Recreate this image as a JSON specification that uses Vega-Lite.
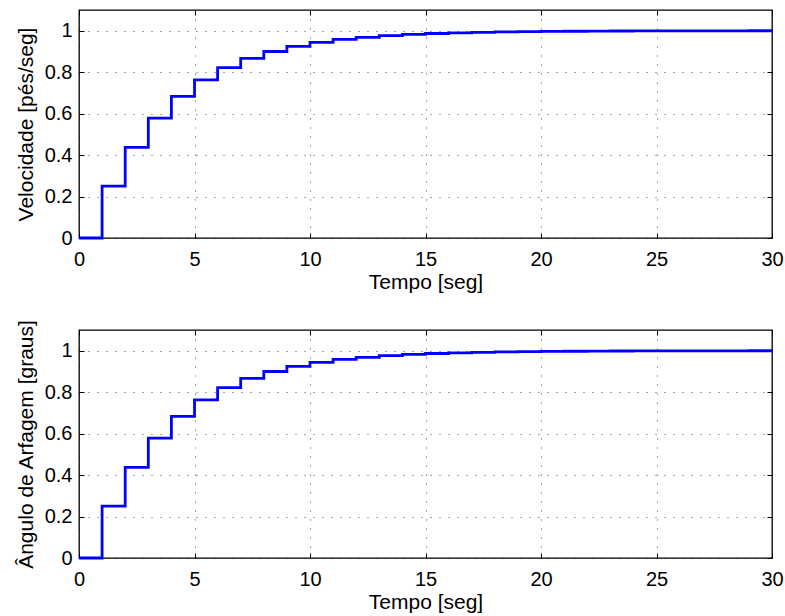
{
  "$schema": "https://vega.github.io/schema/vega-lite/v6.json",
  "padding": {"left": 14, "top": 8, "right": 0, "bottom": 2},
  "background": "white",
  "spacing": 24,
  "datasets": {
    "resp": [
      {"t": 0, "velocidade": 0, "angulo": 0},
      {"t": 1, "velocidade": 0.25, "angulo": 0.25},
      {"t": 2, "velocidade": 0.4375, "angulo": 0.4375},
      {"t": 3, "velocidade": 0.5781, "angulo": 0.5781},
      {"t": 4, "velocidade": 0.6836, "angulo": 0.6836},
      {"t": 5, "velocidade": 0.7627, "angulo": 0.7627},
      {"t": 6, "velocidade": 0.822, "angulo": 0.822},
      {"t": 7, "velocidade": 0.8665, "angulo": 0.8665},
      {"t": 8, "velocidade": 0.8999, "angulo": 0.8999},
      {"t": 9, "velocidade": 0.9249, "angulo": 0.9249},
      {"t": 10, "velocidade": 0.9437, "angulo": 0.9437},
      {"t": 11, "velocidade": 0.9578, "angulo": 0.9578},
      {"t": 12, "velocidade": 0.9683, "angulo": 0.9683},
      {"t": 13, "velocidade": 0.9762, "angulo": 0.9762},
      {"t": 14, "velocidade": 0.9822, "angulo": 0.9822},
      {"t": 15, "velocidade": 0.9866, "angulo": 0.9866},
      {"t": 16, "velocidade": 0.99, "angulo": 0.99},
      {"t": 17, "velocidade": 0.9925, "angulo": 0.9925},
      {"t": 18, "velocidade": 0.9944, "angulo": 0.9944},
      {"t": 19, "velocidade": 0.9958, "angulo": 0.9958},
      {"t": 20, "velocidade": 0.9968, "angulo": 0.9968},
      {"t": 21, "velocidade": 0.9976, "angulo": 0.9976},
      {"t": 22, "velocidade": 0.9982, "angulo": 0.9982},
      {"t": 23, "velocidade": 0.9987, "angulo": 0.9987},
      {"t": 24, "velocidade": 0.999, "angulo": 0.999},
      {"t": 25, "velocidade": 0.9992, "angulo": 0.9992},
      {"t": 26, "velocidade": 0.9994, "angulo": 0.9994},
      {"t": 27, "velocidade": 0.9996, "angulo": 0.9996},
      {"t": 28, "velocidade": 0.9997, "angulo": 0.9997},
      {"t": 29, "velocidade": 0.9998, "angulo": 0.9998},
      {"t": 30, "velocidade": 0.9998, "angulo": 0.9998}
    ]
  },
  "config": {
    "font": "Liberation Sans",
    "view": {"stroke": "#000000", "strokeWidth": 1.3},
    "axis": {
      "labelFont": "Liberation Sans",
      "titleFont": "Liberation Sans",
      "labelFontSize": 20,
      "titleFontSize": 21,
      "labelColor": "#000000",
      "titleColor": "#000000",
      "titleFontWeight": "normal",
      "labelFlush": false,
      "labelOverlap": false,
      "domain": false,
      "tickColor": "#000000",
      "tickSize": -5,
      "grid": true,
      "gridColor": "#000000",
      "gridDash": [1, 8],
      "gridOpacity": 0.7,
      "gridWidth": 1
    }
  },
  "vconcat": [
    {
      "width": 693,
      "height": 228,
      "data": {"name": "resp"},
      "layer": [
        {
          "mark": {"type": "line", "interpolate": "step-after", "color": "#0000FF", "strokeWidth": 2.8},
          "encoding": {
            "x": {"field": "t", "type": "quantitative", "scale": {"domain": [0, 30], "nice": false},
                  "axis": {"title": "Tempo [seg]", "values": [0, 5, 10, 15, 20, 25, 30], "labelPadding": 16, "titlePadding": 2.5, "format": "~g"}},
            "y": {"field": "velocidade", "type": "quantitative", "scale": {"domain": [0, 1.1], "nice": false},
                  "axis": {"title": "Velocidade [pés/seg]", "values": [0, 0.2, 0.4, 0.6, 0.8, 1], "labelPadding": 12, "titlePadding": 8, "format": "~g"}}
          }
        },
        {
          "mark": {"type": "line", "interpolate": "step-after", "opacity": 0},
          "encoding": {
            "x": {"field": "t", "type": "quantitative", "axis": {"orient": "top", "title": null, "labels": false, "grid": false, "values": [0, 5, 10, 15, 20, 25, 30]}},
            "y": {"field": "velocidade", "type": "quantitative", "axis": {"orient": "right", "title": null, "labels": false, "grid": false, "values": [0, 0.2, 0.4, 0.6, 0.8, 1]}}
          }
        }
      ],
      "resolve": {"axis": {"x": "independent", "y": "independent"}}
    },
    {
      "width": 693,
      "height": 228,
      "data": {"name": "resp"},
      "layer": [
        {
          "mark": {"type": "line", "interpolate": "step-after", "color": "#0000FF", "strokeWidth": 2.8},
          "encoding": {
            "x": {"field": "t", "type": "quantitative", "scale": {"domain": [0, 30], "nice": false},
                  "axis": {"title": "Tempo [seg]", "values": [0, 5, 10, 15, 20, 25, 30], "labelPadding": 16, "titlePadding": 2.5, "format": "~g"}},
            "y": {"field": "angulo", "type": "quantitative", "scale": {"domain": [0, 1.1], "nice": false},
                  "axis": {"title": "Ângulo de Arfagem [graus]", "values": [0, 0.2, 0.4, 0.6, 0.8, 1], "labelPadding": 12, "titlePadding": 8, "format": "~g"}}
          }
        },
        {
          "mark": {"type": "line", "interpolate": "step-after", "opacity": 0},
          "encoding": {
            "x": {"field": "t", "type": "quantitative", "axis": {"orient": "top", "title": null, "labels": false, "grid": false, "values": [0, 5, 10, 15, 20, 25, 30]}},
            "y": {"field": "angulo", "type": "quantitative", "axis": {"orient": "right", "title": null, "labels": false, "grid": false, "values": [0, 0.2, 0.4, 0.6, 0.8, 1]}}
          }
        }
      ],
      "resolve": {"axis": {"x": "independent", "y": "independent"}}
    }
  ]
}
